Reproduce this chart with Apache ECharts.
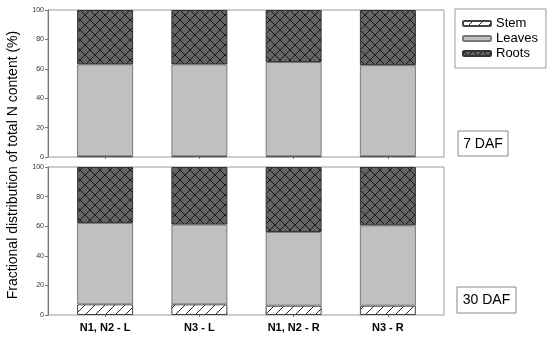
<!DOCTYPE html>
<html>
<head>
<meta charset="utf-8">
<title>Fractional distribution of total N</title>
<script src="https://cdn.jsdelivr.net/npm/echarts@6/dist/echarts.min.js"></script>
<style>
    html, body { margin: 0; padding: 0; background: #fff; }
    #main { width: 550px; height: 337px; }
</style>
</head>
<body>
<div id="main"></div>
<script type="text/javascript">
// data
var categories = ['N1, N2 - L', 'N3 - L', 'N1, N2 - R', 'N3 - R'];
var yTicks = [0, 20, 40, 60, 80, 100];
// 7 DAF
var stem7 = [0.5, 0.5, 0.5, 0.5];
var leaves7 = [62.5, 62.5, 64.1, 62.0];
var roots7 = [37.0, 37.0, 35.4, 37.5];
// 30 DAF
var stem30 = [7.2, 7.2, 6.3, 6.3];
var leaves30 = [55.0, 53.9, 49.8, 54.3];
var roots30 = [37.8, 38.9, 43.9, 39.4];

// hatch fills
function makeTile(size, bg, draw) {
    var c = document.createElement('canvas');
    c.width = size; c.height = size;
    var ctx = c.getContext('2d');
    ctx.fillStyle = bg;
    ctx.fillRect(0, 0, size, size);
    ctx.strokeStyle = '#111';
    ctx.lineWidth = 0.9;
    draw(ctx, size);
    return c;
}
var stemTile = makeTile(10, '#ffffff', function (ctx, s) {
    ctx.beginPath();
    ctx.moveTo(-1, s + 1); ctx.lineTo(s + 1, -1);
    ctx.stroke();
});
var rootTile = makeTile(10, '#646464', function (ctx, s) {
    ctx.beginPath();
    ctx.moveTo(0, 0); ctx.lineTo(s, s);
    ctx.moveTo(s, 0); ctx.lineTo(0, s);
    ctx.stroke();
});

var stemStyle = { color: { image: stemTile, repeat: 'repeat' }, borderColor: '#444', borderWidth: 1 };
var leafStyle = { color: '#c0c0c0', borderColor: '#7a7a7a', borderWidth: 1 };
var rootStyle = { color: { image: rootTile, repeat: 'repeat' }, borderColor: '#333', borderWidth: 1 };

function barSeries(name, arr, style, idx) {
    return {
        name: name,
        type: 'bar',
        stack: 'n' + idx,
        xAxisIndex: idx,
        yAxisIndex: idx,
        barWidth: 56,
        itemStyle: style,
        emphasis: { disabled: true },
        data: arr
    };
}

function xAxisOf(idx, showLabels) {
    return {
        type: 'category',
        gridIndex: idx,
        data: categories,
        axisLine: { show: false },
        axisTick: { show: true, alignWithLabel: true, length: 2, lineStyle: { color: '#777' } },
        axisLabel: {
            show: showLabels,
            margin: 7,
            fontFamily: 'Arial',
            fontWeight: 'bold',
            fontSize: 11,
            color: '#000'
        }
    };
}

function yAxisOf(idx) {
    return {
        type: 'value',
        gridIndex: idx,
        min: 0,
        max: 100,
        interval: 20,
        offset: 10,
        splitLine: { show: false },
        axisLine: { show: true, lineStyle: { color: '#777', width: 1 } },
        axisTick: { show: true, length: 3, lineStyle: { color: '#777' } },
        axisLabel: {
            margin: 4,
            fontFamily: 'Arial',
            fontSize: 7,
            color: '#333',
            formatter: function (v) { return yTicks.indexOf(v) >= 0 ? String(v) : ''; }
        }
    };
}

// plot frames span wider than the category bands
function frame(top, height) {
    return {
        type: 'rect',
        z: 0,
        shape: { x: 48, y: top, width: 396, height: height },
        style: { fill: 'none', stroke: '#999', lineWidth: 1 }
    };
}

var chart = echarts.init(document.getElementById('main'), null, { renderer: 'canvas' });
chart.setOption({
    animation: false,
    grid: [
        { left: 58, top: 10, width: 377, height: 147 },
        { left: 58, top: 167, width: 377, height: 148 }
    ],
    xAxis: [xAxisOf(0, false), xAxisOf(1, true)],
    yAxis: [yAxisOf(0), yAxisOf(1)],
    legend: {
        orient: 'vertical',
        left: 455,
        top: 9,
        padding: [7, 8, 7, 7],
        borderColor: '#999',
        borderWidth: 1,
        itemWidth: 28,
        itemHeight: 5,
        itemGap: 0,
        selectedMode: false,
        textStyle: { fontFamily: 'Arial', fontSize: 13, color: '#000', lineHeight: 15 },
        data: ['Stem', 'Leaves', 'Roots']
    },
    graphic: [
        frame(10, 147),
        frame(167, 148),
        {
            type: 'text',
            x: 13,
            y: 165,
            rotation: Math.PI / 2,
            style: {
                text: 'Fractional distribution of total N content (%)',
                fontFamily: 'Arial',
                fontSize: 14,
                fill: '#000',
                align: 'center',
                verticalAlign: 'middle'
            }
        },
        {
            type: 'rect',
            shape: { x: 458, y: 131, width: 50, height: 25 },
            style: { fill: '#fff', stroke: '#888', lineWidth: 1 }
        },
        {
            type: 'text',
            x: 483,
            y: 144,
            style: { text: '7 DAF', fontFamily: 'Arial', fontSize: 14, fill: '#000', align: 'center', verticalAlign: 'middle' }
        },
        {
            type: 'rect',
            shape: { x: 457, y: 287, width: 59, height: 26 },
            style: { fill: '#fff', stroke: '#888', lineWidth: 1 }
        },
        {
            type: 'text',
            x: 486.5,
            y: 300.5,
            style: { text: '30 DAF', fontFamily: 'Arial', fontSize: 14, fill: '#000', align: 'center', verticalAlign: 'middle' }
        }
    ],
    series: [
        barSeries('Stem', stem7, stemStyle, 0),
        barSeries('Leaves', leaves7, leafStyle, 0),
        barSeries('Roots', roots7, rootStyle, 0),
        barSeries('Stem', stem30, stemStyle, 1),
        barSeries('Leaves', leaves30, leafStyle, 1),
        barSeries('Roots', roots30, rootStyle, 1)
    ]
});
</script>
</body>
</html>
